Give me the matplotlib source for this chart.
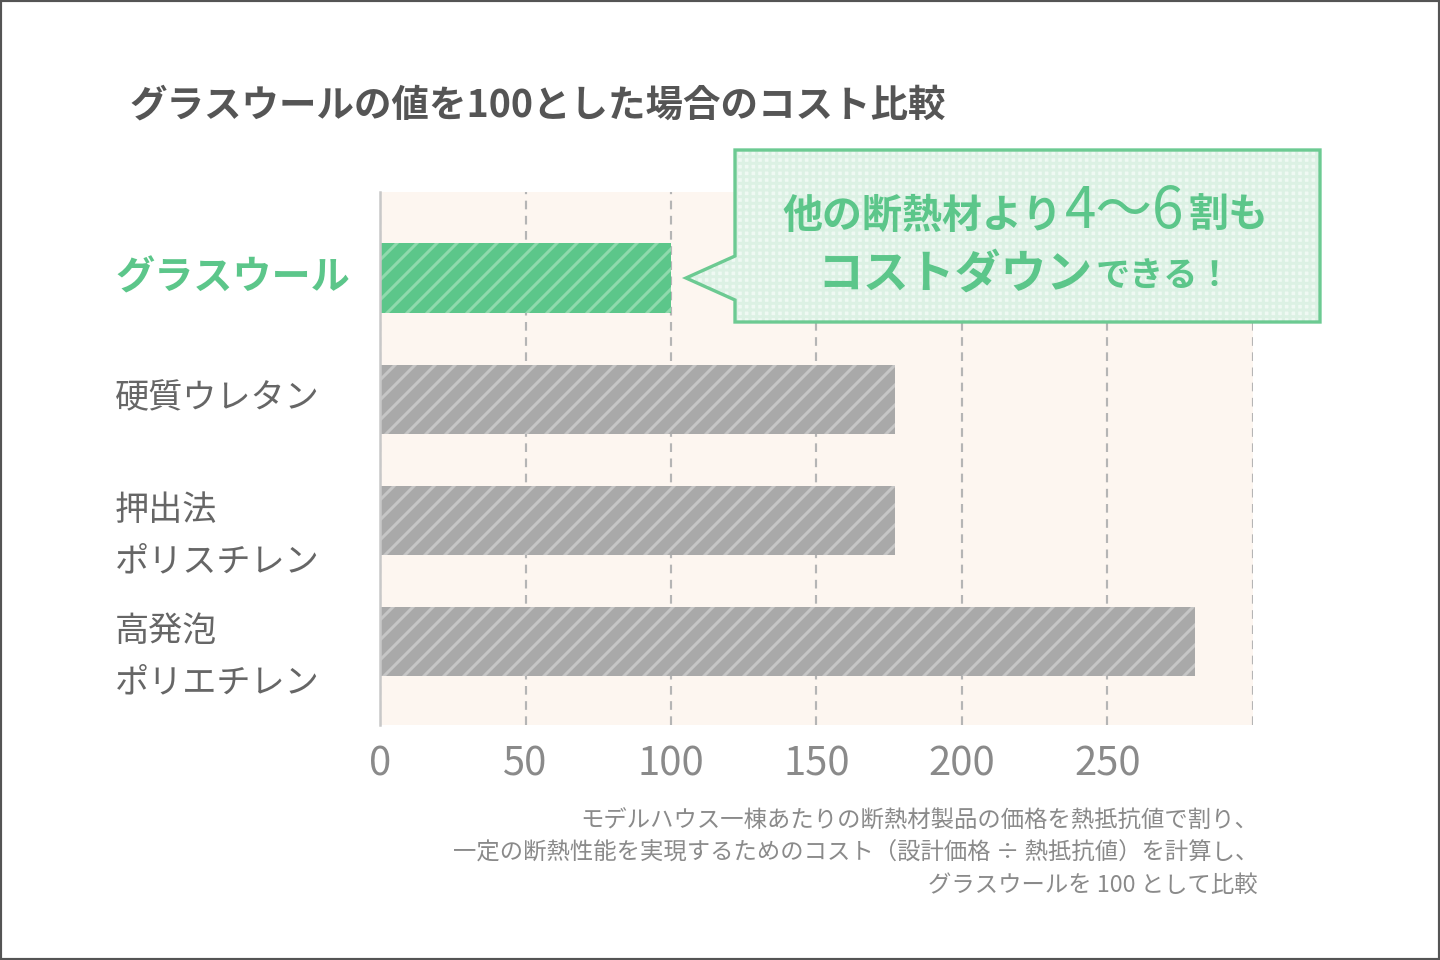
import matplotlib

matplotlib.use("Agg")
import matplotlib.pyplot as plt
from matplotlib import transforms
from matplotlib.patches import Polygon, Rectangle
from matplotlib.offsetbox import TextArea, HPacker, VPacker, AnnotationBbox

plt.rcParams["font.family"] = ["Noto Sans CJK JP", "DejaVu Sans"]
plt.rcParams["hatch.linewidth"] = 1.8

# data
materials = ["グラスウール", "硬質ウレタン", "押出法\nポリスチレン", "高発泡\nポリエチレン"]
costs = [100, 177, 177, 280]
xticks = [0, 50, 100, 150, 200, 250, 300]
xtick_labels = ["0", "50", "100", "150", "200", "250", ""]

title = "グラスウールの値を100とした場合のコスト比較"
note = ("モデルハウス一棟あたりの断熱材製品の価格を熱抵抗値で割り、\n"
        "一定の断熱性能を実現するためのコスト（設計価格 ÷ 熱抵抗値）を計算し、\n"
        "グラスウールを 100 として比較")

GREEN = "#5cc68a"
GREEN_LIGHT = "#8fdaad"
GREY = "#a9a9a9"
GREY_LIGHT = "#c6c6c6"

fig = plt.figure(figsize=(12, 8), dpi=120)
ax = fig.add_axes([380 / 1440, 1 - 725 / 960, (1253 - 380) / 1440, (725 - 192) / 960])
ax.set_facecolor("#fdf6f0")

ypos = list(range(len(materials)))
face = [GREEN] + [GREY] * (len(materials) - 1)
stripe = [GREEN_LIGHT] + [GREY_LIGHT] * (len(materials) - 1)
ax.barh(ypos, costs, height=0.57, color=face, linewidth=0, zorder=3)
ax.barh(ypos, costs, height=0.57, facecolor="none", edgecolor=stripe,
        hatch="//", linewidth=0, zorder=4)

ax.set_xlim(0, 300)
ax.set_ylim(3.69, -0.71)
ax.set_xticks(xticks)
ax.set_xticklabels(xtick_labels, fontsize=24, color="#8a8a8a")
ax.set_yticks([])
ax.tick_params(axis="x", length=0, pad=12)
ax.grid(axis="x", color="#b5b5b5", linestyle=(0, (4, 3)), linewidth=1.3, zorder=1)
for side in ["top", "right", "bottom"]:
    ax.spines[side].set_visible(False)
ax.spines["left"].set_color("#c8c8c8")
ax.spines["left"].set_linewidth(1.5)
ax.spines["left"].set_zorder(5)

# category labels, left aligned in figure coordinates
trans = transforms.blended_transform_factory(fig.transFigure, ax.transData)
for i, name in enumerate(materials):
    if i == 0:
        ax.text(115 / 1440, i, name, transform=trans, fontsize=23.5, fontweight="bold",
                color=GREEN, va="center", ha="left")
    else:
        off = 0.13 if "\n" in name else 0
        ax.text(115 / 1440, i + off, name, transform=trans, fontsize=20.5,
                color="#666666", va="center", ha="left", linespacing=1.6)

fig.text(130 / 1440, 1 - 105 / 960, title, fontsize=22.5, fontweight="bold",
         color="#555555", va="center", ha="left")

fig.text(1258 / 1440, 1 - 853 / 960, note, fontsize=14.0, color="#8a8a8a",
         va="center", ha="right", linespacing=1.5)

# callout
pts = [(735, 150), (1320, 150), (1320, 322), (735, 322), (735, 300), (686, 278), (735, 256)]
pts = [(x / 1440, 1 - y / 960) for x, y in pts]
fig.patches.append(Polygon(pts, closed=True, transform=fig.transFigure,
                           facecolor="#eff9f3", edgecolor="#dcf1e4", hatch="+++",
                           linewidth=0, zorder=5))
fig.patches.append(Polygon(pts, closed=True, transform=fig.transFigure,
                           facecolor="none", edgecolor="#6cca92", linewidth=2.0,
                           joinstyle="miter", zorder=6))


def ta(s, size, weight="bold"):
    return TextArea(s, textprops=dict(fontsize=size, fontweight=weight, color=GREEN))


line1 = HPacker(children=[ta("他の断熱材より", 24), ta("4〜6", 34, "normal"), ta("割も", 24)],
                align="baseline", pad=0, sep=2)
line2 = HPacker(children=[ta("コストダウン", 27.5), ta("できる！", 20.5)],
                align="baseline", pad=0, sep=2)
block = VPacker(children=[line1, line2], align="center", pad=0, sep=6)
ab = AnnotationBbox(block, (1025 / 1440, 1 - 240 / 960), xycoords="figure fraction",
                    frameon=False, box_alignment=(0.5, 0.5), zorder=7)
fig.add_artist(ab)

# outer frame
fig.patches.append(Rectangle((0, 0), 1, 1, transform=fig.transFigure, fill=False,
                             edgecolor="#555555", linewidth=2.5, zorder=10))

fig.savefig("out.png", dpi=120)
plt.close(fig)
